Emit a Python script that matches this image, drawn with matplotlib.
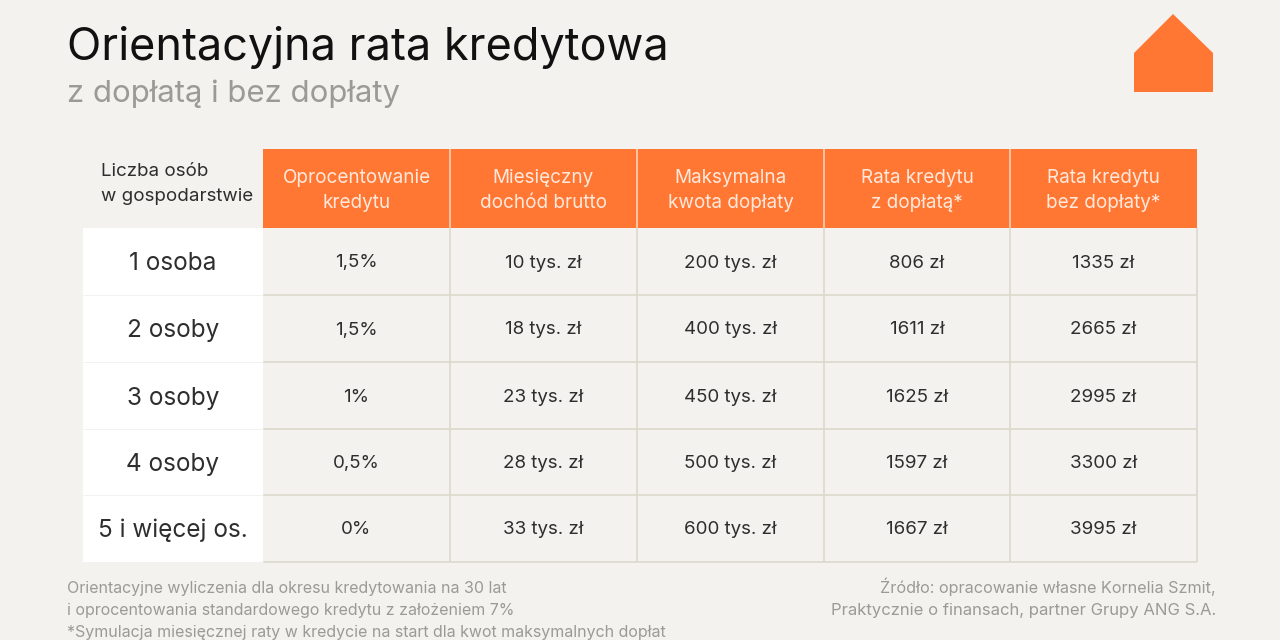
import matplotlib
matplotlib.use("Agg")
import matplotlib.pyplot as plt
from matplotlib.patches import Rectangle, Polygon

plt.rcParams["font.family"] = ["Inter", "DejaVu Sans"]

ORANGE = "#ff7733"
BG = "#f3f2ee"
LINE = "#dbd9cc"
DARK = "#2e2e2e"
GREY = "#9a9a96"

headers = ["Oprocentowanie\nkredytu", "Miesięczny\ndochód brutto", "Maksymalna\nkwota dopłaty",
           "Rata kredytu\nz dopłatą*", "Rata kredytu\nbez dopłaty*"]
households = ["1 osoba", "2 osoby", "3 osoby", "4 osoby", "5 i więcej os."]
interest = ["1,5%", "1,5%", "1%", "0,5%", "0%"]
income = ["10 tys. zł", "18 tys. zł", "23 tys. zł", "28 tys. zł", "33 tys. zł"]
max_subsidy = ["200 tys. zł", "400 tys. zł", "450 tys. zł", "500 tys. zł", "600 tys. zł"]
rate_with = ["806 zł", "1611 zł", "1625 zł", "1597 zł", "1667 zł"]
rate_without = ["1335 zł", "2665 zł", "2995 zł", "3300 zł", "3995 zł"]

col_edges = [263, 450, 637, 824, 1010, 1197]
row_edges = [228, 295, 362, 429, 495, 562]

fig = plt.figure(figsize=(12.8, 6.4), dpi=100, facecolor=BG)
ax = fig.add_axes([0, 0, 1, 1])
ax.set_xlim(0, 1280)
ax.set_ylim(640, 0)
ax.axis("off")

# title
ax.text(67, 60, "Orientacyjna rata kredytowa", fontsize=32.4, color="#111111", va="baseline")
ax.text(67, 102, "z dopłatą i bez dopłaty", fontsize=22.4, color=GREY, va="baseline")

# house logo
ax.add_patch(Polygon([(1134, 53), (1173, 14), (1213, 53), (1213, 92), (1134, 92)], color=ORANGE, lw=0))

# header row
ax.text(101, 176, "Liczba osób", fontsize=13.5, color=DARK, va="baseline")
ax.text(101, 201, "w gospodarstwie", fontsize=13.5, color=DARK, va="baseline")
ax.add_patch(Rectangle((263, 149), 1197 - 263, 228 - 149, color=ORANGE, lw=0))
for i, h in enumerate(headers):
    xc = (col_edges[i] + col_edges[i + 1]) / 2
    for y, part in zip([183, 208], h.split("\n")):
        ax.text(xc, y, part, fontsize=13.6, color="#ffe9dc", ha="center", va="baseline")
for x in col_edges[1:-1]:
    ax.plot([x, x], [149, 228], color="#fbd9c4", lw=1.1, solid_capstyle="butt")

# white first column
ax.add_patch(Rectangle((83, 228), 180, 562 - 228, color="white", lw=0))

# grid
for y in row_edges[1:]:
    ax.plot([263, 1197], [y, y], color=LINE, lw=1.2, solid_capstyle="butt")
    ax.plot([83, 263], [y, y], color=BG, lw=0.7, solid_capstyle="butt")
for x in col_edges[1:]:
    ax.plot([x, x], [228, 562], color=LINE, lw=1.2, solid_capstyle="butt")

# cells
columns = [interest, income, max_subsidy, rate_with, rate_without]
for r in range(len(households)):
    yc = (row_edges[r] + row_edges[r + 1]) / 2
    ax.text(173, yc + 9, households[r], fontsize=17.5, color=DARK, ha="center", va="baseline")
    for c, col in enumerate(columns):
        ax.text((col_edges[c] + col_edges[c + 1]) / 2, yc + 6, col[r], fontsize=13.5, color=DARK,
                ha="center", va="baseline")

# notes
notes = ["Orientacyjne wyliczenia dla okresu kredytowania na 30 lat",
         "i oprocentowania standardowego kredytu z założeniem 7%",
         "*Symulacja miesięcznej raty w kredycie na start dla kwot maksymalnych dopłat"]
for y, n in zip([593, 615, 637], notes):
    ax.text(67, y, n, fontsize=11.5, color=GREY, va="baseline")
source = ["Źródło: opracowanie własne Kornelia Szmit,", "Praktycznie o finansach, partner Grupy ANG S.A."]
for y, n, size in zip([593, 615], source, [11.65, 12]):
    ax.text(1216, y, n, fontsize=size, color=GREY, va="baseline", ha="right")

fig.savefig("out.png", dpi=100, facecolor=BG)
